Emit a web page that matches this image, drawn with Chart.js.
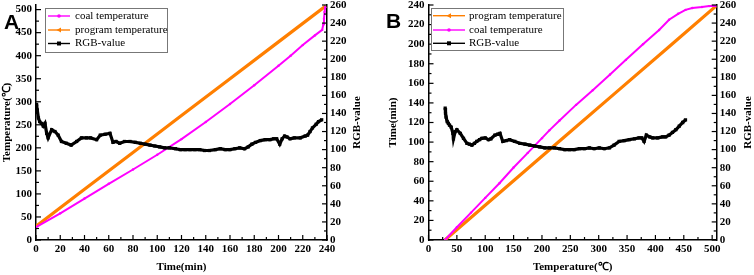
<!DOCTYPE html>
<html>
<head>
<meta charset="utf-8">
<script src="https://cdn.jsdelivr.net/npm/chart.js@4.4.0/dist/chart.umd.min.js"></script>
<style>
  html, body { margin: 0; padding: 0; background: #fff; }
  #wrap { position: relative; width: 754px; height: 275px; }
  .box { position: absolute; top: 0; width: 377px; height: 275px; }
</style>
</head>
<body>
<div id="wrap">
  <div class="box" style="left:0"><canvas id="chartA"></canvas></div>
  <div class="box" style="left:377px"><canvas id="chartB"></canvas></div>
</div>
<script>
// ---- panel A : against time (min) ----
var progTimeA = [0, 40, 80, 120, 160, 200, 239];
var progTempA = [30, 110, 190, 270, 350, 430, 508];

var coalTimeA = [0, 20, 40, 60, 80, 100, 120, 140, 160, 180, 200, 210, 220, 230, 236, 237, 237.5, 238, 238.5];
var coalTempA = [28, 58, 90, 122, 153, 185, 219, 256, 295, 336, 378, 400, 423, 444, 456, 468, 480, 495, 505];

var rgbTimeA = [0.5, 1, 2, 3, 4.5, 6, 7.4, 8.8, 10, 12.9, 15.6, 18.3, 21, 25, 29, 33.5, 37.5, 41.7, 45, 50,
  53, 57, 61, 63.5, 66, 69, 73, 77.5, 82, 86, 90, 94, 98, 102, 106, 110, 115, 119, 123, 127,
  131, 135, 139, 143, 148, 152, 156, 160, 164, 168, 172, 175, 178, 181, 185, 189, 193, 196, 198.5, 201,
  203, 205, 207, 209.5, 213, 218, 222, 224, 226, 228, 231, 233, 235.6];
var rgbValA = [150, 144, 135, 131, 129, 126, 129, 118, 113, 122, 120, 116, 109, 107, 105, 109, 113, 113, 113, 111,
  116, 117, 118, 108, 109, 107, 109, 109, 108, 107, 106, 105, 104, 103, 102, 102, 101, 100, 100, 100,
  100, 100, 99, 99, 100, 101, 100, 100, 101, 102, 101, 103, 106, 108, 110, 111, 111, 112, 112, 106,
  112, 115, 114, 112, 113, 113, 115, 116, 120, 124, 128, 131, 133];

// ---- panel B : against temperature ----
var progTempB = [29, 129, 229, 329, 429, 507];
var progTimeB = [0, 50, 100, 150, 200, 239];

var coalTempB = [29, 50, 75, 100, 125, 150, 175, 200, 213, 231, 260, 289.5, 320, 348, 378, 406.5, 424, 440, 453, 465, 482, 495, 506];
var coalTimeB = [0, 13, 28, 43, 58, 74, 89, 104, 112, 122, 138, 153, 169, 184, 200, 214.5, 225, 231, 235, 237, 238, 239, 239];

var rgbTempB = [29.4, 30, 31, 33, 35, 37, 40, 43, 44, 47, 50, 56, 61.7, 67.7, 72, 76.5, 81, 85, 90, 94,
  100, 105.7, 110, 117, 122, 126, 131, 137, 143, 152, 161, 170, 178.5, 187, 196, 205, 213, 222, 231, 240,
  248.5, 257, 266, 275, 283.5, 292, 301, 310, 319, 327, 336, 345, 354, 363, 371, 376, 380, 384, 390, 395,
  404, 412.5, 418, 424, 430, 436, 442, 448, 453];
var rgbValB = [146, 140, 136, 131, 129, 127, 125, 118, 112, 120, 122, 118, 112.5, 107, 106, 105, 107, 109, 111, 112.5,
  113, 111, 112, 116, 117, 118, 109, 110, 111, 109, 107, 106, 105, 104, 103, 102, 102, 102, 101, 100,
  100, 100, 101, 101, 102, 101, 102, 101, 102, 105, 109, 110, 111, 112, 113, 113, 109, 116, 114, 113,
  113, 114, 114, 116, 119, 122, 126, 130, 133];

var SERIF = '"Liberation Serif", "Times New Roman", serif';
var ORANGE = '#ff7f00';
var MAGENTA = '#ff00ff';

Chart.defaults.font.family = SERIF;
Chart.defaults.color = '#000';

function pts(xs, ys) {
  return xs.map(function (x, i) { return { x: x, y: ys[i] }; });
}

function progSet(xs, ys) {
  return { label: 'program temperature', data: pts(xs, ys), borderColor: ORANGE, backgroundColor: ORANGE,
    borderWidth: 3.2, pointRadius: 0, pointStyle: 'triangle', yAxisID: 'y', order: 2 };
}
function coalSet(xs, ys) {
  return { label: 'coal temperature', data: pts(xs, ys), borderColor: MAGENTA, backgroundColor: MAGENTA,
    borderWidth: 2, pointRadius: 1.2, pointBorderWidth: 0, pointStyle: 'circle', yAxisID: 'y', order: 1 };
}
function rgbSet(xs, ys) {
  return { label: 'RGB-value', data: pts(xs, ys), borderColor: '#000', backgroundColor: '#000',
    borderWidth: 3.2, pointRadius: 2.3, pointBorderWidth: 0, pointStyle: 'rect', yAxisID: 'y1', order: 0 };
}

// inward major + minor tick marks
var inwardTicks = {
  id: 'inwardTicks',
  afterDraw: function (chart) {
    var ctx = chart.ctx, a = chart.chartArea;
    ctx.save();
    ctx.strokeStyle = '#000';
    ctx.lineWidth = 1.2;
    Object.values(chart.scales).forEach(function (s) {
      var vals = s.ticks.map(function (t) { return t.value; });
      var marks = [];
      vals.forEach(function (v, i) {
        marks.push([v, 5]);
        if (i < vals.length - 1) marks.push([(v + vals[i + 1]) / 2, 3]);
      });
      marks.forEach(function (m) {
        var p = s.getPixelForValue(m[0]);
        ctx.beginPath();
        if (s.position === 'left') { ctx.moveTo(a.left, p); ctx.lineTo(a.left + m[1], p); }
        else if (s.position === 'right') { ctx.moveTo(a.right, p); ctx.lineTo(a.right - m[1], p); }
        else { ctx.moveTo(p, a.bottom); ctx.lineTo(p, a.bottom - m[1]); }
        ctx.stroke();
      });
    });
    ctx.restore();
  }
};

// panel letter, right axis title and boxed legend
var panelText = {
  id: 'panelText',
  afterDraw: function (chart) {
    var o = chart.options.plugins.panelText;
    var ctx = chart.ctx, a = chart.chartArea;
    ctx.save();
    ctx.fillStyle = '#000';
    ctx.font = 'bold 21px "Liberation Sans", Arial, sans-serif';
    ctx.textBaseline = 'alphabetic';
    ctx.fillText(o.letter, o.letterX, o.letterY);

    ctx.save();
    ctx.font = 'bold 11px ' + SERIF;
    ctx.translate(o.rightTitleX, (a.top + a.bottom) / 2);
    ctx.rotate(-Math.PI / 2);
    ctx.textAlign = 'center';
    ctx.textBaseline = 'middle';
    ctx.fillText('RGB-value', 0, 0);
    ctx.restore();

    var L = o.legend;
    ctx.fillStyle = '#fff';
    ctx.fillRect(L.x, L.y, L.w, L.h);
    ctx.strokeStyle = '#777';
    ctx.lineWidth = 1;
    ctx.strokeRect(L.x + 0.5, L.y + 0.5, L.w, L.h);
    ctx.font = '11px ' + SERIF;
    ctx.textBaseline = 'middle';
    ctx.textAlign = 'left';
    chart.data.datasets.forEach(function (ds, i) {
      var y = L.rows[i];
      ctx.strokeStyle = ds.borderColor;
      ctx.lineWidth = 1.4;
      ctx.beginPath();
      ctx.moveTo(L.x0, y); ctx.lineTo(L.x1, y);
      ctx.stroke();
      var cx = (L.x0 + L.x1) / 2;
      ctx.fillStyle = ds.borderColor;
      ctx.beginPath();
      if (ds.pointStyle === 'rect') ctx.rect(cx - 2, y - 2, 4, 4);
      else if (ds.pointStyle === 'triangle') { ctx.moveTo(cx - 2.5, y); ctx.lineTo(cx + 2, y - 2.5); ctx.lineTo(cx + 2, y + 2.5); ctx.closePath(); }
      else ctx.arc(cx, y, 1.8, 0, Math.PI * 2);
      ctx.fill();
      ctx.fillStyle = '#000';
      ctx.fillText(ds.label, L.tx, y);
    });
    ctx.restore();
  }
};

function axis(pos, min, max, step, title, size, tpad, titlePad) {
  var ax = {
    type: 'linear', position: pos, min: min, max: max,
    ticks: { stepSize: step, padding: tpad, autoSkip: false, maxRotation: 0, includeBounds: false,
      font: { weight: 'bold', size: 11 }, color: '#000' },
    grid: { drawOnChartArea: false, drawTicks: false },
    border: { display: true, color: '#000', width: 1.5 },
    afterBuildTicks: function (s) {
      s.ticks = s.ticks.filter(function (t) { return Math.abs(t.value / step - Math.round(t.value / step)) < 1e-6; });
    },
    afterFit: function (s) {
      if (pos === 'bottom') { s.height = size; s.paddingLeft = 0; s.paddingRight = 0; }
      else { s.width = size; s.paddingTop = 0; s.paddingBottom = 0; }
    }
  };
  if (title) {
    ax.title = { display: true, text: title, font: { weight: 'bold', size: 11 }, color: '#000', padding: titlePad };
  }
  return ax;
}

function makeChart(id, datasets, scales, text) {
  return new Chart(document.getElementById(id), {
    type: 'line',
    data: { datasets: datasets },
    options: {
      responsive: true,
      maintainAspectRatio: false,
      animation: false,
      layout: { padding: { top: 5, left: 0, right: 0, bottom: 0 } },
      scales: scales,
      plugins: { legend: { display: false }, tooltip: { enabled: false }, panelText: text }
    },
    plugins: [inwardTicks, panelText]
  });
}

makeChart('chartA',
  [coalSet(coalTimeA, coalTempA), progSet(progTimeA, progTempA), rgbSet(rgbTimeA, rgbValA)],
  {
    x: axis('bottom', 0, 240, 20, 'Time(min)', 35, 3, { top: 0, bottom: 1.4 }),
    y: axis('left', 0, 510, 50, 'Temperature(\u2103)', 36, 4, { top: 0.4, bottom: 0 }),
    y1: axis('right', 0, 260, 20, null, 50, 3)
  },
  { letter: 'A', letterX: 4, letterY: 29, rightTitleX: 357,
    legend: { x: 45, y: 8, w: 122, h: 44, rows: [16, 30, 43.5], x0: 48, x1: 70, tx: 75 } }
);

makeChart('chartB',
  [progSet(progTempB, progTimeB), coalSet(coalTempB, coalTimeB), rgbSet(rgbTempB, rgbValB)],
  {
    x: axis('bottom', 0, 508, 50, 'Temperature(\u2103)', 35, 3, { top: 0, bottom: 1.4 }),
    y: axis('left', 0, 240, 20, 'Time(min)', 51.5, 4, { top: 9.4, bottom: 0 }),
    y1: axis('right', 0, 260, 20, null, 37.3, 3)
  },
  { letter: 'B', letterX: 9, letterY: 28, rightTitleX: 371,
    legend: { x: 54, y: 8, w: 132, h: 42, rows: [15.7, 30, 43.3], x0: 56, x1: 88, tx: 92 } }
);
</script>
</body>
</html>
